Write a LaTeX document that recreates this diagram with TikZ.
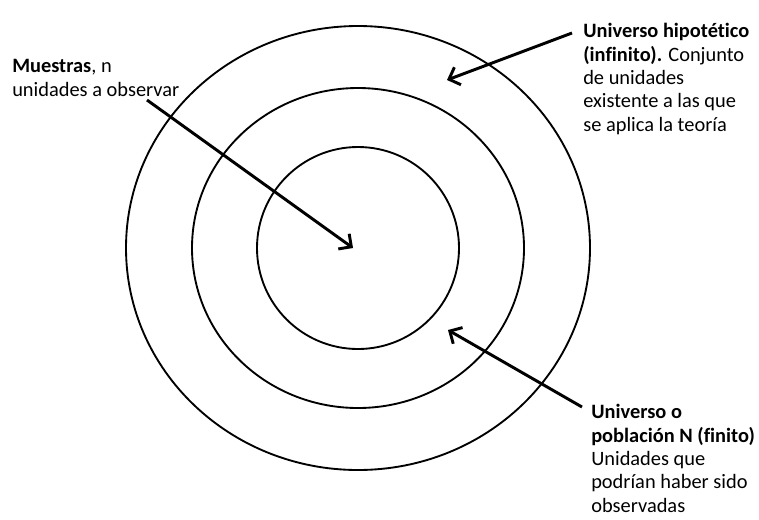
\documentclass[tikz,border=0pt]{standalone}
\usepackage{fontspec}
\setmainfont{Carlito}[Ligatures=NoCommon]
\usepackage{tikz}
\usetikzlibrary{arrows.meta}

\begin{document}
\begin{tikzpicture}[
  x=0.75pt, y=-0.75pt,
  every node/.style={font=\fontsize{15.3}{17.5}\selectfont,
                     inner sep=0pt, align=left},
  ring/.style={line width=1.4pt},
  pointer/.style={line width=2.2pt,
                  -{Straight Barb[length=7pt, width=14pt]}},
]
\useasboundingbox (0,0) rectangle (759,519);

%% ── Rings ──────────────────────────────────────────────────────────────
\coordinate (ctr) at (358,248);
\draw[ring] (ctr) ellipse [x radius=232, y radius=222];
\draw[ring] (ctr) ellipse [x radius=166, y radius=160];
\draw[ring] (ctr) ellipse [x radius=101, y radius=101];

%% ── Labels (base = last line) ──────────────────────────────────────────
\node[anchor=base west] (muestras) at (12,96)
  {\textbf{Muestras}, n\\unidades a observar};
\node[anchor=base west] (hipot) at (583,131)
  {\textbf{Universo hipotético}\\\textbf{(infinito).} Conjunto\\de unidades\\
   existente a las que\\se aplica la teoría};
\node[anchor=base west] (poblac) at (591,512)
  {\textbf{Universo o}\\\textbf{población N (finito)}\\Unidades que\\
   podrían haber sido\\observadas};

%% ── Pointers ───────────────────────────────────────────────────────────
\coordinate (mtail) at (147,100);
\coordinate (mtip)  at (353,248);
\coordinate (htail) at (572,33);
\coordinate (htip)  at (447,80);
\coordinate (ptail) at (582,407);
\coordinate (ptip)  at (448,330);

\draw[pointer] (mtail) -- (mtip);
\draw[pointer] (htail) -- (htip);
\draw[pointer] (ptail) -- (ptip);

\end{tikzpicture}
\end{document}
